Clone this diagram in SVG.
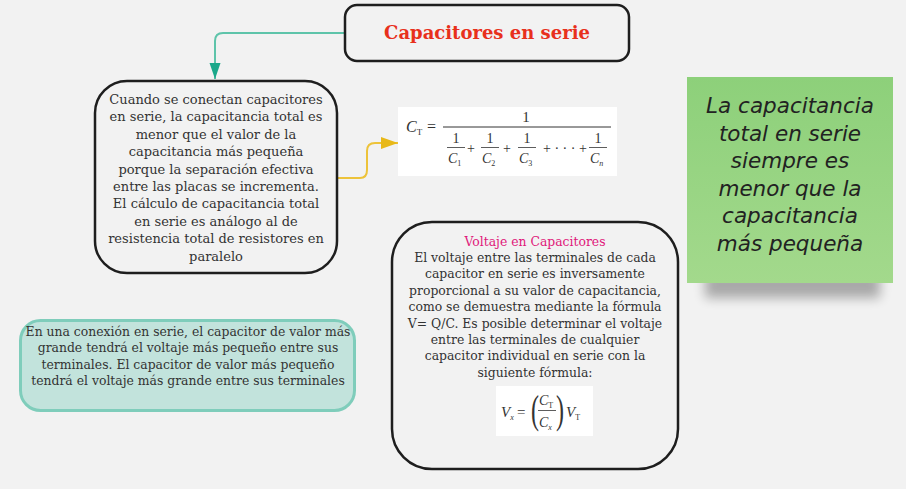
<svg xmlns="http://www.w3.org/2000/svg" width="906" height="489" viewBox="0 0 906 489">
<defs>
<style>
.box{fill:#f2f2f2;stroke:#1e1e1e;stroke-width:2.5}
.t{font-family:"DejaVu Serif",serif;font-size:12.4px;fill:#333;text-anchor:middle}
.t1{font-family:"DejaVu Serif",serif;font-size:13px;fill:#333;text-anchor:middle}
.f{font-family:"Liberation Serif",serif;fill:#333;font-style:italic}
.fn{font-family:"Liberation Serif",serif;fill:#333}
.hw{font-family:"DejaVu Sans",sans-serif;font-style:italic;font-size:21.5px;fill:#222;text-anchor:middle}
</style>
<linearGradient id="g" x1="0" y1="0" x2="0" y2="1"><stop offset="0" stop-color="#8dd07a"/><stop offset="1" stop-color="#a3d98c"/></linearGradient>
<filter id="sh" x="-20%" y="-50%" width="140%" height="200%"><feGaussianBlur stdDeviation="6"/></filter>
<marker id="at" markerWidth="18" markerHeight="12" refX="16" refY="5.5" orient="auto" markerUnits="userSpaceOnUse"><path d="M0,0 L16,5.5 L0,11 Z" fill="#1aa88a"/></marker>
<marker id="ay" markerWidth="18" markerHeight="12" refX="17" refY="6" orient="auto" markerUnits="userSpaceOnUse"><path d="M0,0 L17,6 L0,12 Z" fill="#e8b818"/></marker>
</defs>
<rect width="906" height="489" fill="#f2f2f2"/>
<g id="connectors" fill="none">
<path d="M345,33 H223 Q215,33 215,41 V79" stroke="#5ec4aa" stroke-width="2" marker-end="url(#at)"/>
<path d="M337,178 H360 Q367,178 367,170 V151 Q367,143 375,143 H398" stroke="#edc33a" stroke-width="2" marker-end="url(#ay)"/>
</g>
<g id="title">
<rect class="box" x="345" y="5" width="284" height="56" rx="12"/>
<text x="487" y="39" font-family="DejaVu Serif,serif" font-weight="bold" font-size="18" fill="#e8301c" text-anchor="middle">Capacitores en serie</text>
</g>
<g id="box1">
<rect class="box" x="95" y="81" width="242" height="192" rx="32"/>
<text class="t1"><tspan x="216" y="104">Cuando se conectan capacitores</tspan><tspan x="216" y="121.4">en serie, la capacitancia total es</tspan><tspan x="216" y="138.8">menor que el valor de la</tspan><tspan x="216" y="156.2">capacitancia más pequeña</tspan><tspan x="216" y="173.6">porque la separación efectiva</tspan><tspan x="216" y="191">entre las placas se incrementa.</tspan><tspan x="216" y="208.4">El cálculo de capacitancia total</tspan><tspan x="216" y="225.8">en serie es análogo al de</tspan><tspan x="216" y="243.2">resistencia total de resistores en</tspan><tspan x="216" y="260.6">paralelo</tspan></text>
</g>
<g id="formula1">
<rect x="398" y="107" width="219" height="69" fill="#fff"/>
<text class="f" x="406" y="132" font-size="16">C<tspan font-size="9" dy="3" font-style="normal">T</tspan></text>
<text class="fn" x="427" y="132" font-size="16">=</text>
<line x1="443" y1="127" x2="611" y2="127" stroke="#333" stroke-width="1"/>
<text class="fn" x="526" y="122" font-size="15" text-anchor="middle">1</text>
<g font-size="14">
<text class="fn" x="456" y="143" text-anchor="middle">1</text>
<line x1="447" y1="147.5" x2="465" y2="147.5" stroke="#333" stroke-width="0.8"/>
<text class="f" x="448" y="163">C<tspan font-size="8" dy="3" font-style="normal">1</tspan></text>
<text class="fn" x="471" y="153" text-anchor="middle">+</text>
<text class="fn" x="490" y="143" text-anchor="middle">1</text>
<line x1="481" y1="147.5" x2="499" y2="147.5" stroke="#333" stroke-width="0.8"/>
<text class="f" x="482" y="163">C<tspan font-size="8" dy="3" font-style="normal">2</tspan></text>
<text class="fn" x="507" y="153" text-anchor="middle">+</text>
<text class="fn" x="527" y="143" text-anchor="middle">1</text>
<line x1="518" y1="147.5" x2="536" y2="147.5" stroke="#333" stroke-width="0.8"/>
<text class="f" x="519" y="163">C<tspan font-size="8" dy="3" font-style="normal">3</tspan></text>
<text class="fn" x="543" y="153">+ · · · +</text>
<text class="fn" x="598" y="143" text-anchor="middle">1</text>
<line x1="589" y1="147.5" x2="607" y2="147.5" stroke="#333" stroke-width="0.8"/>
<text class="f" x="590" y="163">C<tspan font-size="8" dy="3">n</tspan></text>
</g>
</g>
<g id="note">
<rect x="705" y="272" width="175" height="26" fill="#000" opacity="0.3" filter="url(#sh)"/>
<rect x="687" y="77" width="206" height="206" fill="url(#g)"/>
<text class="hw"><tspan x="790" y="113">La capacitancia</tspan><tspan x="790" y="140.5">total en serie</tspan><tspan x="790" y="168">siempre es</tspan><tspan x="790" y="195.5">menor que la</tspan><tspan x="790" y="223">capacitancia</tspan><tspan x="790" y="250.5">más pequeña</tspan></text>
</g>
<g id="box2">
<rect x="20.5" y="320.5" width="334" height="90" rx="20" fill="#c2e3dc" stroke="#7fcdbb" stroke-width="3"/>
<text class="t"><tspan x="188" y="336">En una conexión en serie, el capacitor de valor más</tspan><tspan x="188" y="352.3">grande tendrá el voltaje más pequeño entre sus</tspan><tspan x="188" y="368.6">terminales. El capacitor de valor más pequeño</tspan><tspan x="188" y="385">tendrá el voltaje más grande entre sus terminales</tspan></text>
</g>
<g id="box3">
<rect class="box" x="392" y="222" width="286" height="247" rx="40"/>
<text class="t" x="535" y="246" style="fill:#e0187a">Voltaje en Capacitores</text>
<text class="t"><tspan x="535" y="262">El voltaje entre las terminales de cada</tspan><tspan x="535" y="278.4">capacitor en serie es inversamente</tspan><tspan x="535" y="294.8">proporcional a su valor de capacitancia,</tspan><tspan x="535" y="311.2">como se demuestra mediante la fórmula</tspan><tspan x="535" y="327.6">V= Q/C. Es posible determinar el voltaje</tspan><tspan x="535" y="344">entre las terminales de cualquier</tspan><tspan x="535" y="360.4">capacitor individual en serie con la</tspan><tspan x="535" y="376.8">siguiente fórmula:</tspan></text>
<rect x="496" y="386" width="97" height="50" fill="#fff"/>
<text class="f" x="501" y="417" font-size="15">V<tspan font-size="8" dy="3">x</tspan></text>
<text class="fn" x="517" y="417" font-size="15">=</text>
<text class="fn" x="531" y="423" font-size="40" transform="translate(531 417) scale(0.6 1) translate(-531 -417)">(</text>
<text class="f" x="539" y="405" font-size="14">C<tspan font-size="8" dy="3" font-style="normal">T</tspan></text>
<line x1="538" y1="410.5" x2="556" y2="410.5" stroke="#333" stroke-width="0.8"/>
<text class="f" x="539" y="427" font-size="14">C<tspan font-size="8" dy="3">x</tspan></text>
<text class="fn" x="556" y="423" font-size="40" transform="translate(556 417) scale(0.6 1) translate(-556 -417)">)</text>
<text class="f" x="566" y="417" font-size="15">V<tspan font-size="8" dy="3" font-style="normal">T</tspan></text>
</g>
</svg>
